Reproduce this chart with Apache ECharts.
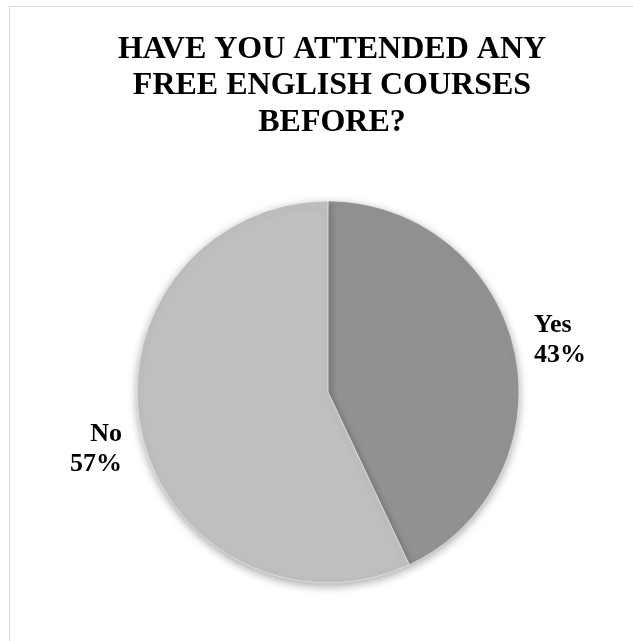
<!DOCTYPE html>
<html>
<head>
<meta charset="utf-8">
<script src="https://cdn.jsdelivr.net/npm/echarts@6/dist/echarts.min.js"></script>
<style>
html,body{margin:0;padding:0;background:#fff;}
#frame{position:absolute;left:9px;top:6px;width:640px;height:650px;border:1.5px solid #d9d9d9;box-sizing:border-box;}
#chart{position:absolute;left:0;top:0;width:633px;height:641px;}
</style>
</head>
<body>
<div id="frame"></div>
<div id="chart"></div>
<script>
const titleText = "HAVE YOU ATTENDED ANY\nFREE ENGLISH COURSES\nBEFORE?";
const categories = ["Yes", "No"];
const percentages = [43, 57];
const colors = ["#929292", "#bfbfbf"];
const labelOffsets = [[-2, -6], [2, 12]];

const chart = echarts.init(document.getElementById('chart'), null, {renderer: 'canvas'});
const data = categories.map((c, i) => ({
  name: c,
  value: percentages[i],
  itemStyle: {color: colors[i]},
  label: {offset: labelOffsets[i]}
}));

chart.setOption({
  animation: false,
  title: {
    text: titleText,
    left: 327,
    textAlign: 'center',
    top: 26,
    textStyle: {
      fontFamily: 'Liberation Serif',
      fontWeight: 'bold',
      fontSize: 32,
      lineHeight: 36.5,
      color: '#000'
    }
  },
  series: [{
    type: 'pie',
    center: [328, 392],
    radius: [0, 191],
    startAngle: 90,
    clockwise: true,
    data: data,
    itemStyle: {
      borderColor: '#fff',
      borderWidth: 0.5,
      shadowBlur: 10,
      shadowColor: 'rgba(0,0,0,0.35)',
      shadowOffsetY: 3
    },
    label: {
      show: true,
      position: 'outside',
      formatter: p => p.name + '\n' + p.value + '%',
      fontFamily: 'Liberation Serif',
      fontWeight: 'bold',
      fontSize: 26,
      lineHeight: 30,
      color: '#000',
      align: 'center'
    },
    labelLine: {show: false, length: 17, length2: 0}
  }]
});
</script>
</body>
</html>
